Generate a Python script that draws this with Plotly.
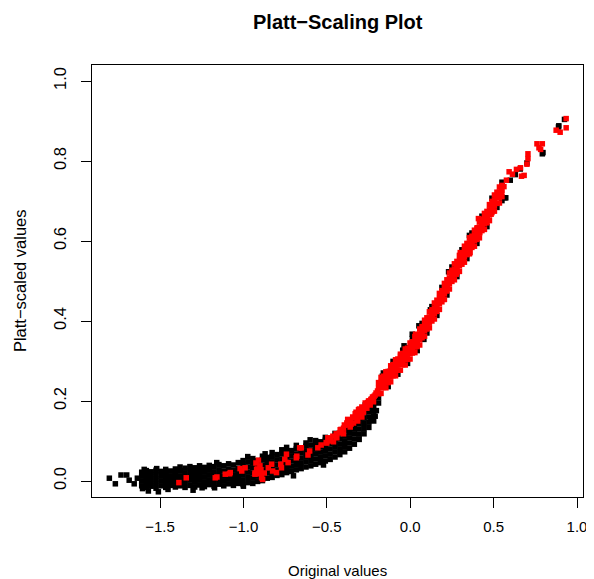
import plotly.graph_objects as go

# ---- tick labels ----
x_tick_vals = [-1.5, -1.0, -0.5, 0.0, 0.5, 1.0]
x_tick_text = ["\u22121.5", "\u22121.0", "\u22120.5", "0.0", "0.5", "1.0"]
y_tick_vals = [0.0, 0.2, 0.4, 0.6, 0.8, 1.0]
y_tick_text = ["0.0", "0.2", "0.4", "0.6", "0.8", "1.0"]

# ---- black points: dense lower cloud, read column by column ----
black_col_x = [-1.610, -1.582, -1.553, -1.524, -1.495, -1.466, -1.437, -1.408, -1.379, -1.350,
               -1.321, -1.292, -1.263, -1.234, -1.205, -1.176, -1.147, -1.118, -1.089, -1.060,
               -1.031, -1.002, -0.973, -0.944, -0.915, -0.886, -0.857, -0.828, -0.799, -0.770,
               -0.741, -0.712, -0.683, -0.654, -0.625, -0.596, -0.567, -0.538, -0.509, -0.480,
               -0.451, -0.422, -0.393, -0.364, -0.335, -0.306, -0.277, -0.248, -0.219]
black_col_y = [
    [-0.012, 0.000, 0.012, 0.022],
    [-0.016, -0.004, 0.007, 0.018, 0.026],
    [-0.013, -0.001, 0.011, 0.023],
    [-0.018, -0.006, 0.005, 0.016, 0.027],
    [-0.012, 0.000, 0.012, 0.024],
    [-0.016, -0.004, 0.008, 0.019, 0.029],
    [-0.011, 0.001, 0.013, 0.025],
    [-0.015, -0.003, 0.009, 0.020, 0.030],
    [-0.012, 0.001, 0.013, 0.026],
    [-0.016, -0.004, 0.008, 0.020, 0.032],
    [-0.011, 0.002, 0.014, 0.026, 0.036],
    [-0.015, -0.003, 0.009, 0.021, 0.033],
    [-0.010, 0.002, 0.014, 0.026, 0.038],
    [-0.014, -0.002, 0.010, 0.022, 0.034],
    [-0.009, 0.003, 0.015, 0.027, 0.039],
    [-0.013, -0.001, 0.011, 0.023, 0.036],
    [-0.008, 0.004, 0.016, 0.028, 0.041],
    [-0.012, 0.000, 0.012, 0.025, 0.038],
    [-0.007, 0.005, 0.017, 0.030, 0.043],
    [-0.011, 0.001, 0.014, 0.027, 0.040],
    [-0.006, 0.006, 0.019, 0.032, 0.046],
    [-0.009, 0.003, 0.016, 0.029, 0.042, 0.051],
    [-0.004, 0.009, 0.022, 0.035, 0.048],
    [-0.006, 0.007, 0.020, 0.033, 0.046, 0.056],
    [-0.001, 0.012, 0.025, 0.038, 0.051],
    [0.001, 0.014, 0.027, 0.040, 0.053, 0.062],
    [0.007, 0.020, 0.033, 0.046, 0.059],
    [0.009, 0.022, 0.035, 0.048, 0.061, 0.071],
    [0.014, 0.027, 0.040, 0.053, 0.066],
    [0.016, 0.029, 0.042, 0.055, 0.068, 0.078],
    [0.021, 0.034, 0.047, 0.060, 0.073, 0.084],
    [0.024, 0.037, 0.050, 0.063, 0.076],
    [0.028, 0.041, 0.054, 0.067, 0.080, 0.089],
    [0.031, 0.044, 0.057, 0.070, 0.083],
    [0.035, 0.048, 0.061, 0.074, 0.087, 0.095],
    [0.038, 0.051, 0.064, 0.077, 0.090],
    [0.042, 0.055, 0.068, 0.081, 0.094, 0.101],
    [0.046, 0.059, 0.072, 0.085, 0.098],
    [0.050, 0.063, 0.076, 0.089, 0.102, 0.109],
    [0.054, 0.067, 0.080, 0.093, 0.106],
    [0.060, 0.073, 0.086, 0.099, 0.112, 0.119],
    [0.066, 0.079, 0.092, 0.105, 0.118],
    [0.073, 0.086, 0.099, 0.112, 0.125, 0.133],
    [0.082, 0.095, 0.108, 0.121, 0.134, 0.144],
    [0.092, 0.105, 0.118, 0.131, 0.144, 0.156],
    [0.104, 0.117, 0.130, 0.143, 0.156, 0.168],
    [0.118, 0.131, 0.144, 0.157, 0.170, 0.181],
    [0.134, 0.147, 0.160, 0.173, 0.186, 0.194],
    [0.150, 0.163, 0.176, 0.189, 0.201, 0.209],
]

# ---- black points peeking out at the edges of the rising band ----
band_col_x = [-0.190, -0.161, -0.132, -0.103, -0.074, -0.045, -0.016, 0.013, 0.042, 0.071,
              0.100, 0.130, 0.160, 0.190, 0.220, 0.250, 0.280, 0.310, 0.340, 0.370,
              0.400, 0.430, 0.460, 0.490, 0.520, 0.550]
band_col_y = [
    [0.195, 0.208], [0.270], [0.236], [0.299], [0.267],
    [0.327], [0.294], [0.356], [0.326], [0.394],
    [0.370], [0.436], [0.414], [0.484], [0.465],
    [0.535], [0.511], [0.578], [0.556], [0.620],
    [0.594], [0.662], [0.636], [0.707], [0.684],
    [0.701, 0.747],
]

# ---- black points: scattered outliers and single marks ----
black_extra_x = [-1.804, -1.768, -1.734, -1.700, -1.685, -1.655, -1.636, -1.605, -1.595, -1.570,
                 -1.510, -1.452, -1.302, -1.248, -1.173, -1.000, -0.974, -1.160, -1.380, -1.520,
                 -0.870, -0.600, -0.700, -0.520, -0.270, -0.236, -0.206, -0.210, -0.203,
                 -0.167, -0.119, -0.037, -0.022, 0.012, 0.052, 0.082, 0.121, 0.141, 0.230,
                 0.355, 0.567, 0.573, 0.600, 0.630, 0.660, 0.700, 0.792, 0.796, 0.889,
                 0.891, 0.925]
black_extra_y = [0.007, -0.007, 0.015, 0.015, 0.002, -0.007, 0.007, -0.019, 0.029, -0.025,
                 -0.027, -0.021, -0.023, -0.017, -0.017, -0.013, 0.061, 0.046, 0.035, 0.031,
                 0.068, 0.103, 0.013, 0.040, 0.190, 0.156, 0.213, 0.162, 0.176,
                 0.262, 0.275, 0.338, 0.333, 0.367, 0.388, 0.354, 0.428, 0.417, 0.523,
                 0.614, 0.708, 0.708, 0.752, 0.766, 0.780, 0.795, 0.818, 0.821, 0.885,
                 0.888, 0.904]

# ---- red points ----
red_x = [-1.387, -1.343, -1.169, -1.159, -1.109, -1.083, -1.079, -1.020, -0.990, -1.010,
         -0.931, -0.925, -0.921, -0.910, -0.901, -0.915, -0.895, -0.905, -0.891, -0.885,
         -0.875, -0.930, -0.851, -0.831, -0.825, -0.802, -0.776, -0.772, -0.752, -0.742,
         -0.732, -0.683, -0.680, -0.663, -0.653, -0.613, -0.603, -0.554, -0.534, -0.504,
         -0.494, -0.484, -0.464, -0.444, -0.425, -0.415, -0.395, -0.375, -0.375, -0.355,
         -0.345, -0.335, -0.325, -0.315, -0.315, -0.305, -0.296, -0.290, -0.276, -0.265,
         -0.256, -0.246, -0.236, -0.226, -0.216, -0.205, -0.196, -0.187, -0.177, -0.167,
         -0.157, -0.147, -0.137, -0.127, -0.117, -0.107, -0.097, -0.087, -0.077, -0.067,
         -0.058, -0.048, -0.038, -0.028, -0.018, -0.008, -0.002, 0.012, 0.022, 0.032,
         0.042, 0.047, 0.052, 0.067, 0.078, 0.091, 0.098, 0.105, 0.113, 0.121,
         0.131, 0.141, 0.149, 0.157, 0.170, 0.180, 0.190, 0.200, 0.205, 0.210,
         0.217, 0.224, 0.232, 0.240, 0.250, 0.260, 0.276, 0.280, 0.288, 0.296,
         0.300, 0.305, 0.319, 0.335, 0.359, 0.345, 0.365, 0.379, 0.399, 0.417,
         0.403, 0.429, 0.409, 0.438, 0.458, 0.462, 0.476, 0.485, 0.494, 0.502,
         0.502, 0.514, 0.534, 0.548, 0.562, 0.577, 0.593, 0.613, 0.637, 0.661,
         0.667, 0.683, 0.700, 0.706, 0.706, 0.760, 0.772, 0.782, 0.792, 0.875,
         0.899, 0.935, 0.935]
red_y = [-0.004, 0.008, 0.008, 0.010, 0.017, 0.018, 0.021, 0.031, 0.033, 0.025,
         0.017, 0.045, 0.029, 0.052, 0.038, 0.030, 0.028, 0.018, 0.008, 0.004,
         0.020, 0.020, 0.033, 0.042, 0.025, 0.021, 0.042, 0.033, 0.054, 0.067,
         0.046, 0.058, 0.062, 0.083, 0.083, 0.065, 0.075, 0.083, 0.090, 0.096,
         0.108, 0.100, 0.112, 0.118, 0.120, 0.129, 0.140, 0.140, 0.154, 0.142,
         0.160, 0.158, 0.172, 0.167, 0.150, 0.180, 0.175, 0.160, 0.183, 0.190,
         0.196, 0.200, 0.204, 0.210, 0.212, 0.220, 0.225, 0.237, 0.240, 0.246,
         0.250, 0.254, 0.258, 0.262, 0.270, 0.275, 0.280, 0.283, 0.290, 0.296,
         0.312, 0.303, 0.308, 0.315, 0.317, 0.322, 0.325, 0.333, 0.340, 0.367,
         0.346, 0.355, 0.362, 0.371, 0.378, 0.383, 0.390, 0.396, 0.402, 0.408,
         0.414, 0.421, 0.430, 0.437, 0.445, 0.452, 0.467, 0.454, 0.473, 0.479,
         0.486, 0.492, 0.498, 0.504, 0.513, 0.525, 0.517, 0.533, 0.540, 0.546,
         0.571, 0.552, 0.558, 0.581, 0.571, 0.590, 0.596, 0.604, 0.608, 0.621,
         0.633, 0.642, 0.656, 0.654, 0.646, 0.664, 0.672, 0.667, 0.687, 0.696,
         0.675, 0.712, 0.712, 0.722, 0.736, 0.752, 0.773, 0.767, 0.779, 0.783,
         0.762, 0.764, 0.792, 0.806, 0.818, 0.843, 0.833, 0.829, 0.843, 0.877,
         0.872, 0.883, 0.906]

# ---- red cluster where the curve starts to rise ----
red_cluster_x = [-0.500, -0.480, -0.460, -0.440, -0.420, -0.400, -0.400, -0.380, -0.360, -0.360,
                 -0.340, -0.330, -0.320, -0.310, -0.300, -0.290, -0.280, -0.270, -0.260, -0.250,
                 -0.240, -0.230, -0.220, -0.210]
red_cluster_y = [0.095, 0.105, 0.098, 0.108, 0.128, 0.118, 0.132, 0.145, 0.135, 0.152,
                 0.145, 0.168, 0.158, 0.178, 0.165, 0.185, 0.172, 0.195, 0.182, 0.200,
                 0.190, 0.205, 0.198, 0.215]

# ---- red points filling the width of the rising band, column by column ----
red_band_col_x = [-0.190, -0.161, -0.132, -0.103, -0.074, -0.045, -0.016, 0.013, 0.042, 0.071,
                  0.100, 0.130, 0.160, 0.190, 0.220, 0.250, 0.280, 0.310, 0.340, 0.370,
                  0.400, 0.430, 0.460, 0.490, 0.520, 0.550,
                  -0.175, -0.146, -0.117, -0.088, -0.059, -0.030, -0.001, 0.028, 0.057, 0.086,
                  0.115, 0.145, 0.175, 0.205, 0.235, 0.265, 0.295, 0.325, 0.355, 0.385,
                  0.415, 0.445, 0.475, 0.505, 0.535]
red_band_col_y = [
    [0.218, 0.233, 0.246], [0.234, 0.249, 0.262], [0.246, 0.261, 0.274], [0.263, 0.278, 0.291],
    [0.277, 0.292, 0.305], [0.291, 0.306, 0.319], [0.304, 0.319, 0.332], [0.320, 0.335, 0.348],
    [0.336, 0.351, 0.364], [0.358, 0.373, 0.386], [0.380, 0.395, 0.408], [0.400, 0.415, 0.428],
    [0.424, 0.439, 0.452], [0.448, 0.463, 0.476], [0.475, 0.490, 0.503], [0.499, 0.514, 0.527],
    [0.521, 0.536, 0.549], [0.542, 0.557, 0.570], [0.566, 0.581, 0.594], [0.584, 0.599, 0.612],
    [0.604, 0.619, 0.632], [0.626, 0.641, 0.654], [0.646, 0.661, 0.674], [0.671, 0.686, 0.699],
    [0.694, 0.709, 0.722], [0.711, 0.726, 0.739],
    [0.219, 0.233, 0.246, 0.259], [0.233, 0.247, 0.260, 0.273], [0.248, 0.262, 0.275, 0.288],
    [0.263, 0.277, 0.290, 0.303], [0.277, 0.291, 0.304, 0.317], [0.290, 0.304, 0.317, 0.330],
    [0.305, 0.319, 0.332, 0.345], [0.321, 0.335, 0.348, 0.361], [0.340, 0.354, 0.367, 0.380],
    [0.362, 0.376, 0.389, 0.402], [0.383, 0.397, 0.410, 0.423], [0.405, 0.419, 0.432, 0.445],
    [0.429, 0.443, 0.456, 0.469], [0.454, 0.468, 0.481, 0.494], [0.480, 0.494, 0.507, 0.520],
    [0.503, 0.517, 0.530, 0.543], [0.524, 0.538, 0.551, 0.564], [0.547, 0.561, 0.574, 0.587],
    [0.568, 0.582, 0.595, 0.608], [0.587, 0.601, 0.614, 0.627], [0.608, 0.622, 0.635, 0.648],
    [0.629, 0.643, 0.656, 0.669], [0.651, 0.665, 0.678, 0.691], [0.675, 0.689, 0.702, 0.715],
    [0.695, 0.709, 0.722, 0.735],
]

# flatten the column tables
black_x, black_y = [], []
for cx, ys in list(zip(black_col_x, black_col_y)) + list(zip(band_col_x, band_col_y)):
    for yv in ys:
        black_x.append(cx)
        black_y.append(yv)
black_x += black_extra_x
black_y += black_extra_y

all_red_x, all_red_y = [], []
for cx, ys in zip(red_band_col_x, red_band_col_y):
    for yv in ys:
        all_red_x.append(cx)
        all_red_y.append(yv)
all_red_x += red_cluster_x + red_x
all_red_y += red_cluster_y + red_y

FONT = "Liberation Sans, Arial, Helvetica, sans-serif"
MSIZE = 5.5

fig = go.Figure()
fig.add_trace(go.Scatter(x=black_x, y=black_y, mode="markers",
                         marker=dict(symbol="square", size=MSIZE, color="#000000",
                                     line=dict(width=0)),
                         showlegend=False, hoverinfo="skip"))
fig.add_trace(go.Scatter(x=all_red_x, y=all_red_y, mode="markers",
                         marker=dict(symbol="square", size=MSIZE, color="#FF0000",
                                     line=dict(width=0)),
                         showlegend=False, hoverinfo="skip"))

axis_common = dict(showline=True, linecolor="#000000", linewidth=1, mirror=True,
                   ticks="outside", ticklen=10, tickwidth=1, tickcolor="#000000",
                   showgrid=False, zeroline=False)

# page body has an 8px margin, so the figure is sized to end at the window edge
fig.update_layout(
    width=586, height=571,
    margin=dict(l=84, r=7, t=57, b=82),
    paper_bgcolor="white", plot_bgcolor="white",
    xaxis=dict(range=[-1.908, 1.036], tickvals=x_tick_vals, ticktext=x_tick_text,
               ticklabelstandoff=6,
               tickfont=dict(family=FONT, size=15, color="#000000"), **axis_common),
    yaxis=dict(range=[-0.04, 1.04], tickvals=y_tick_vals, ticktext=y_tick_text,
               tickangle=-90, ticklabelstandoff=8,
               tickfont=dict(family=FONT, size=16.5, color="#000000"), **axis_common),
    annotations=[
        dict(text="<b>Platt\u2212Scaling Plot</b>", xref="paper", yref="paper",
             x=0.5, y=(497 - 22) / 432, xanchor="center", yanchor="middle",
             showarrow=False, font=dict(family=FONT, size=20, color="#000000")),
        dict(text="Original values", xref="paper", yref="paper",
             x=0.5, y=(497 - 570) / 432, xanchor="center", yanchor="middle",
             showarrow=False, font=dict(family=FONT, size=15, color="#000000")),
        dict(text="Platt\u2212scaled values", xref="paper", yref="paper",
             x=(20 - 92.5) / 495, y=0.5, xanchor="center", yanchor="middle",
             textangle=-90, showarrow=False,
             font=dict(family=FONT, size=16.5, color="#000000")),
    ],
)

fig.write_html("out.html")
